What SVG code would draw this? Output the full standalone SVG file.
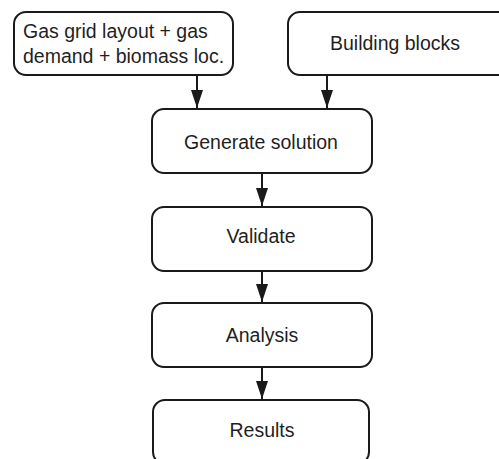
<svg xmlns="http://www.w3.org/2000/svg" width="499" height="459" viewBox="0 0 499 459">
<style>
.box{fill:#fff;stroke:#1a1a1a;stroke-width:2}
.t{font-family:"Liberation Sans",Arial,sans-serif;font-size:19.5px;fill:#1f1f1f;text-anchor:middle}
.l{text-anchor:start}
.c{stroke:#1a1a1a;stroke-width:2;fill:none;marker-end:url(#ah)}
</style>
<defs>
<marker id="ah" markerWidth="18" markerHeight="12" refX="18" refY="6" orient="auto" markerUnits="userSpaceOnUse" viewBox="0 0 18 12">
<path d="M0,0 L18,6 L0,12 z" fill="#1a1a1a"/>
</marker>
</defs>
<rect width="499" height="459" fill="#fff"/>
<g id="connectors">
<line class="c" x1="197" y1="75" x2="197" y2="108"/>
<line class="c" x1="327" y1="75" x2="327" y2="108"/>
<line class="c" x1="262" y1="173" x2="262" y2="206"/>
<line class="c" x1="262" y1="271" x2="262" y2="302"/>
<line class="c" x1="262" y1="367" x2="262" y2="399"/>
</g>
<g id="input">
<rect class="box" x="14" y="12" width="219" height="63" rx="12"/>
<text class="t l" x="23" y="38">Gas grid layout + gas</text>
<text class="t l" x="23" y="63">demand + biomass loc.</text>
</g>
<g id="blocks">
<rect class="box" x="288" y="12" width="222" height="63" rx="12"/>
<text class="t" x="395" y="50">Building blocks</text>
</g>
<g id="generate">
<rect class="box" x="152" y="109" width="220" height="64" rx="12"/>
<text class="t" x="261" y="149">Generate solution</text>
</g>
<g id="validate">
<rect class="box" x="152" y="207" width="220" height="64" rx="12"/>
<text class="t" x="261" y="243">Validate</text>
</g>
<g id="analysis">
<rect class="box" x="152" y="303" width="220" height="64" rx="12"/>
<text class="t" x="262" y="342">Analysis</text>
</g>
<g id="results">
<rect class="box" x="153" y="400" width="216" height="64" rx="12"/>
<text class="t" x="262" y="437">Results</text>
</g>
</svg>
